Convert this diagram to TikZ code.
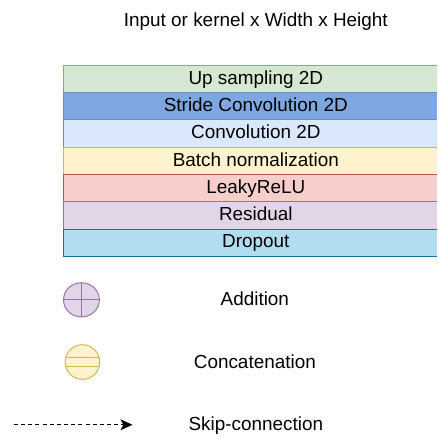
\documentclass[tikz,border=0pt]{standalone}
\usepackage{fontspec}
\setmainfont{Liberation Sans}
\usetikzlibrary{arrows.meta}
\definecolor{upF}{RGB}{213,232,212}\definecolor{upS}{RGB}{130,179,102}
\definecolor{stF}{RGB}{126,166,224}\definecolor{stS}{RGB}{108,142,191}
\definecolor{cvF}{RGB}{218,232,252}\definecolor{cvS}{RGB}{108,142,191}
\definecolor{bnF}{RGB}{255,242,204}\definecolor{bnS}{RGB}{214,182,86}
\definecolor{lrF}{RGB}{248,206,204}\definecolor{lrS}{RGB}{184,84,80}
\definecolor{rsF}{RGB}{225,213,231}\definecolor{rsS}{RGB}{150,115,166}
\definecolor{dpF}{RGB}{177,221,240}\definecolor{dpS}{RGB}{16,115,158}
\begin{document}
\begin{tikzpicture}[x=1pt,y=1pt,
  txt/.style={font=\fontsize{19}{21}\selectfont, inner sep=0pt, anchor=base},
  layer/.style={line width=1pt}]
\fill[white] (-1,-1) rectangle (440,438);
\fill[upF] (62.3,372.3) rectangle (438,344.9);
\draw[layer, upS] (438,372.3) -- (62.3,372.3) -- (62.3,344.9) -- (438,344.9);
\fill[stF] (62.3,344.9) rectangle (438,317.5);
\draw[layer, stS] (438,344.9) -- (62.3,344.9) -- (62.3,317.5) -- (438,317.5);
\fill[cvF] (62.3,317.5) rectangle (438,290.1);
\draw[layer, cvS] (438,317.5) -- (62.3,317.5) -- (62.3,290.1) -- (438,290.1);
\fill[bnF] (62.3,290.1) rectangle (438,262.7);
\draw[layer, bnS] (438,290.1) -- (62.3,290.1) -- (62.3,262.7) -- (438,262.7);
\fill[lrF] (62.3,262.7) rectangle (438,235.3);
\draw[layer, lrS] (438,262.7) -- (62.3,262.7) -- (62.3,235.3) -- (438,235.3);
\fill[rsF] (62.3,235.3) rectangle (438,207.9);
\draw[layer, rsS] (438,235.3) -- (62.3,235.3) -- (62.3,207.9) -- (438,207.9);
\fill[dpF] (62.3,207.9) rectangle (438,180.5);
\draw[layer, dpS] (438,207.9) -- (62.3,207.9) -- (62.3,180.5) -- (438,180.5);
\node[txt] (title) at (256,411) {Input or kernel x Width x Height};
\node[txt] (up) at (256,353.3) {Up sampling 2D};
\node[txt] (st) at (256,325.9) {Stride Convolution 2D};
\node[txt] (cv) at (256,298.5) {Convolution 2D};
\node[txt] (bn) at (256,271.1) {Batch normalization};
\node[txt] (lr) at (256,243.7) {LeakyReLU};
\node[txt] (rs) at (256,216.3) {Residual};
\node[txt] (dp) at (256,188.9) {Dropout};
% addition
\filldraw[layer, fill=rsF, draw=rsS] (80.8,136.8) ellipse (18 and 17.2);
\draw[layer, draw=rsS] (80.8,119.6) -- (80.8,154) (62.8,136.8) -- (98.8,136.8);
\node[txt] (addl) at (255,131) {Addition};
% concatenation
\filldraw[layer, fill=bnF, draw=bnS] (81.8,74.3) circle (17.4);
\draw[layer, draw=bnS] (65.1,79) -- (98.5,79) (65.1,69.6) -- (98.5,69.6);
\node[txt] (catl) at (255,67.7) {Concatenation};
% skip
\coordinate (s0) at (13,11.3);
\coordinate (s1) at (132,11.3);
\draw[dash pattern=on 4pt off 3.2pt, line width=1.3pt, -{Stealth[length=12pt,width=11pt,inset=3pt]}] (s0) -- (s1);
\node[txt] (skl) at (256,5.3) {Skip-connection};
\path[use as bounding box] (-1,-1) rectangle (440,438);
\end{tikzpicture}
\end{document}
